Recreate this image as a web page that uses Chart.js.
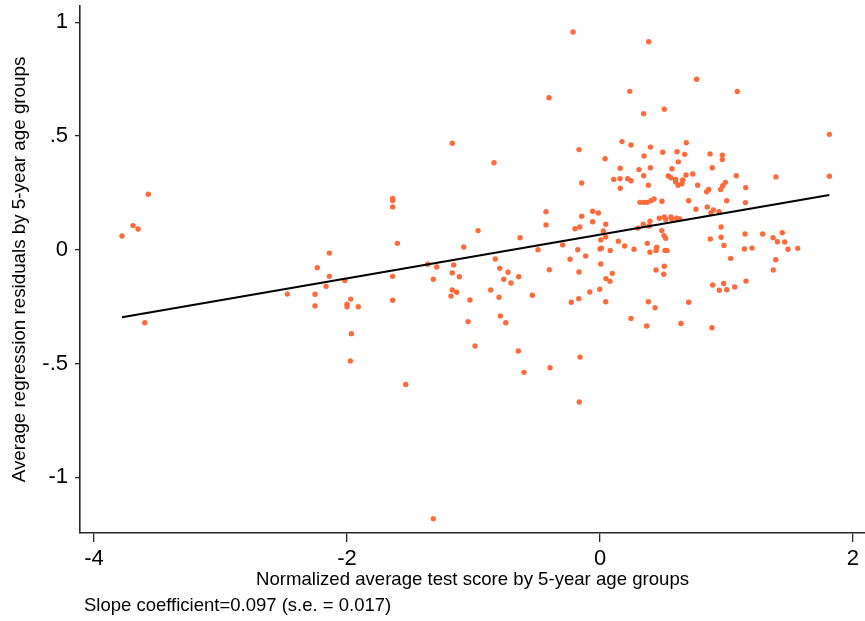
<!DOCTYPE html>
<html>
<head>
<meta charset="utf-8">
<script src="https://cdn.jsdelivr.net/npm/chart.js@4/dist/chart.umd.min.js"></script>
<style>
  html, body { margin: 0; padding: 0; background: #ffffff; }
  #wrap { width: 865px; height: 621px; position: relative; }
</style>
</head>
<body>
<div id="wrap"><canvas id="c" width="865" height="621"></canvas></div>
<script>
// Normalized average test score (x) for each 5-year age group point
const testScore = [
  -3.571,-3.692,-3.652,-3.779,-3.599,-2.140,-2.235,-2.140,-2.166,-2.472,-2.253,-2.253,
  -1.168,-1.639,-1.639,-1.639,-1.602,-1.077,-1.362,-1.291,-1.157,-2.018,-1.639,-1.318,-1.168,-1.112,-1.168,-1.133,-1.178,-1.971,-2.000,-2.000,-1.911,-1.639,-1.028,-1.043,-1.966,-1.974,-1.536,-1.318,
  -0.403,-0.838,-0.427,-0.427,-0.964,-0.632,-0.490,-0.828,-0.793,-0.727,-0.401,-0.761,-0.704,-0.643,-0.864,-0.798,-0.535,-0.788,-0.745,-0.988,-0.646,-0.601,-0.395,
  -0.213,0.385,0.235,0.345,0.174,0.245,-0.166,0.399,0.040,0.348,0.160,0.308,0.398,0.345,0.108,0.158,0.219,0.245,-0.145,0.382,0.160,
  0.316,0.348,0.374,0.403,0.427,-0.058,-0.013,-0.145,-0.058,0.045,-0.198,-0.160,0.395,0.342,0.300,0.390,0.026,0.045,0.006,-0.295,0.145,0.195,0.269,0.374,-0.176,0.000,0.012,0.081,0.395,0.443,-0.113,-0.237,0.006,-0.166,0.097,0.047,0.079,0.443,-0.081,-0.002,-0.227,-0.168,0.045,0.382,0.435,0.245,0.369,-0.158,-0.164,
  0.764,1.085,0.508,0.682,0.496,0.609,0.670,0.870,0.967,0.967,0.619,0.888,0.569,0.540,0.561,0.598,0.598,0.654,0.648,0.617,0.680,0.733,0.772,1.077,0.991,0.970,1.152,0.859,0.843,0.954,
  0.490,0.701,1.002,1.149,0.759,0.848,0.896,0.877,0.941,0.469,0.508,0.519,0.561,0.567,0.606,0.630,0.957,0.488,0.506,0.519,0.957,0.872,1.146,0.980,0.448,0.514,0.530,1.141,1.033,0.508,0.504,0.891,0.978,0.943,1.002,1.065,1.154,0.701,0.640,0.885,
  1.813,1.391,1.813,1.286,1.441,1.368,1.402,1.460,1.202,1.486,1.563,1.389,1.370
];
// Average regression residuals (y), same order
const residuals = [
  0.244,0.106,0.091,0.060,-0.321,-0.015,-0.079,-0.117,-0.161,-0.195,-0.196,-0.247,
  0.468,0.225,0.216,0.188,0.028,0.012,-0.064,-0.076,-0.067,-0.135,-0.117,-0.130,-0.102,-0.119,-0.177,-0.187,-0.204,-0.217,-0.240,-0.251,-0.251,-0.222,-0.221,-0.316,-0.369,-0.489,-0.592,-1.182,
  0.668,0.382,0.167,0.109,0.084,0.053,0.000,-0.041,-0.082,-0.099,-0.088,-0.130,-0.146,-0.119,-0.177,-0.209,-0.200,-0.291,-0.321,-0.423,-0.445,-0.539,-0.519,
  0.957,0.914,0.696,0.598,0.475,0.460,0.440,0.451,0.400,0.412,0.358,0.352,0.360,0.325,0.309,0.312,0.312,0.303,0.293,0.283,0.270,
  0.208,0.208,0.208,0.215,0.223,0.169,0.161,0.147,0.123,0.112,0.092,0.100,0.125,0.112,0.095,0.104,0.082,0.056,0.043,0.021,0.037,0.016,0.002,0.028,0.000,0.003,0.007,-0.003,-0.011,-0.004,-0.028,-0.042,-0.063,-0.098,-0.104,-0.127,-0.139,-0.089,-0.186,-0.174,-0.231,-0.215,-0.229,-0.229,-0.255,-0.302,-0.335,-0.472,-0.669,
  0.749,0.695,0.617,0.470,0.428,0.431,0.419,0.421,0.415,0.396,0.386,0.360,0.356,0.324,0.316,0.309,0.298,0.306,0.290,0.283,0.328,0.333,0.283,0.325,0.296,0.281,0.273,0.265,0.255,0.265,
  0.213,0.215,0.215,0.207,0.178,0.188,0.175,0.161,0.167,0.138,0.144,0.134,0.144,0.136,0.138,0.135,0.100,0.084,0.062,0.050,0.055,0.047,0.069,0.019,0.011,-0.003,-0.004,0.003,-0.038,-0.073,-0.108,-0.155,-0.148,-0.178,-0.176,-0.164,-0.138,-0.231,-0.324,-0.343,
  0.507,0.320,0.323,0.069,0.075,0.053,0.035,0.034,0.007,0.002,0.006,-0.044,-0.089
];
// Fitted line end points
const fitX = [-3.779, 1.813];
const fitY = [-0.297, 0.240];

const xTicks = [-4, -2, 0, 2];
const xTickLabels = ['-4', '-2', '0', '2'];
const yTicks = [-1, -0.5, 0, 0.5, 1];
const yTickLabels = ['-1', '-.5', '0', '.5', '1'];

const xTitle = 'Normalized average test score by 5-year age groups';
const yTitle = 'Average regression residuals by 5-year age groups';
const noteText = 'Slope coefficient=0.097 (s.e. = 0.017)';

const FONT = "'Liberation Sans', Arial, Helvetica, sans-serif";
const DOT = '#ff6a3a';
const AXIS = '#262626';

const scatterData = testScore.map((x, i) => ({ x: x, y: residuals[i] }));
const fitData = fitX.map((x, i) => ({ x: x, y: fitY[i] }));

function zeroPadding(scale) {
  scale.paddingTop = 0;
  scale.paddingBottom = 0;
  scale.paddingLeft = 0;
  scale.paddingRight = 0;
}

const notePlugin = {
  id: 'note',
  afterDraw(chart) {
    const ctx = chart.ctx;
    ctx.save();
    ctx.font = '18.5px ' + FONT;
    ctx.fillStyle = '#000';
    ctx.textAlign = 'left';
    ctx.textBaseline = 'middle';
    ctx.fillText(noteText, chart.chartArea.left + 4, 606);
    ctx.restore();
  }
};

new Chart(document.getElementById('c'), {
  type: 'scatter',
  data: {
    datasets: [
      {
        type: 'line',
        data: fitData,
        borderColor: '#000',
        borderWidth: 2,
        pointRadius: 0,
        fill: false,
        tension: 0,
        order: 0
      },
      {
        data: scatterData,
        backgroundColor: DOT,
        borderColor: DOT,
        borderWidth: 0,
        pointRadius: 2.7,
        order: 1
      }
    ]
  },
  options: {
    responsive: false,
    animation: false,
    devicePixelRatio: 1,
    layout: { autoPadding: false, padding: { left: 0, right: 0, top: 6, bottom: 0 } },
    plugins: {
      legend: { display: false },
      tooltip: { enabled: false },
      title: { display: false }
    },
    scales: {
      x: {
        type: 'linear',
        min: -4.111,
        max: 2.095,
        afterBuildTicks(scale) { scale.ticks = xTicks.map(v => ({ value: v })); },
        afterFit(scale) { scale.height = 88; zeroPadding(scale); },
        ticks: {
          autoSkip: false,
          maxRotation: 0,
          padding: 4,
          color: '#000',
          font: { family: FONT, size: 22 },
          callback(value) { const i = xTicks.indexOf(value); return i >= 0 ? xTickLabels[i] : ''; }
        },
        grid: {
          display: true,
          drawOnChartArea: false,
          drawTicks: true,
          tickLength: 9,
          color: AXIS,
          lineWidth: 1.3
        },
        border: { display: true, color: AXIS, width: 1.6 },
        title: {
          display: true,
          text: xTitle,
          color: '#000',
          font: { family: FONT, size: 18.6 },
          padding: { top: 0, bottom: 30 }
        }
      },
      y: {
        type: 'linear',
        min: -1.245,
        max: 1.071,
        afterBuildTicks(scale) { scale.ticks = yTicks.map(v => ({ value: v })); },
        afterFit(scale) { scale.width = 80; zeroPadding(scale); },
        ticks: {
          autoSkip: false,
          padding: 7,
          color: '#000',
          font: { family: FONT, size: 22 },
          callback(value) { const i = yTicks.indexOf(value); return i >= 0 ? yTickLabels[i] : ''; }
        },
        grid: {
          display: true,
          drawOnChartArea: false,
          drawTicks: true,
          tickLength: 5,
          color: AXIS,
          lineWidth: 1.3
        },
        border: { display: true, color: AXIS, width: 1.6 },
        title: {
          display: true,
          text: yTitle,
          color: '#000',
          font: { family: FONT, size: 18.8 },
          padding: { top: 9, bottom: 0 }
        }
      }
    }
  },
  plugins: [notePlugin]
});
</script>
</body>
</html>
